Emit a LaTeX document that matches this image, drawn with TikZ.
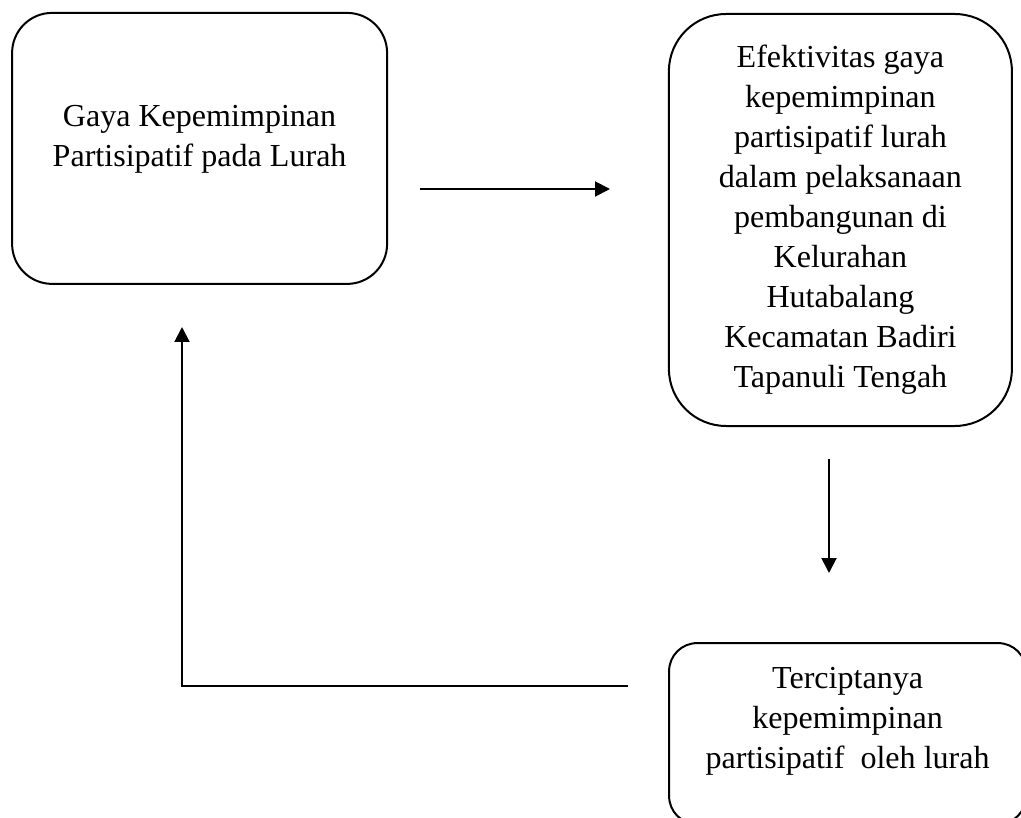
\documentclass[tikz,border=0pt]{standalone}
\usepackage{fontspec}
\setmainfont{Liberation Serif}
\usetikzlibrary{positioning,arrows.meta}
\begin{document}
\begin{tikzpicture}[
  kotak/.style = {draw, line width=0.05cm, inner sep=0pt},
  isi/.style = {align=center, inner sep=0pt, font=\fontsize{22.8}{28.45}\selectfont},
  panah/.style = {line width=0.05cm, -{Triangle[length=0.375cm,width=0.375cm]}}
  ]
  \useasboundingbox (0,0) rectangle (25.525,-20.45);
  \node [kotak, rounded corners=1cm, minimum width=9.375cm, minimum height=6.775cm] (gaya) at (4.99,-3.71) {};
  \node [isi, below=2.33cm of gaya.north] (gayatxt) {Gaya Kepemimpinan\\Partisipatif pada Lurah};
  \node [kotak, rounded corners=1.43cm, minimum width=8.575cm, minimum height=10.3cm] (efek) at (21.01,-5.5) {};
  \node [isi, below=0.8cm of efek.north] (efektxt) {Efektivitas gaya\\kepemimpinan\\partisipatif lurah\\dalam pelaksanaan\\pembangunan di\\Kelurahan\\Hutabalang\\Kecamatan Badiri\\Tapanuli Tengah};
  \node [kotak, rounded corners=0.7cm, minimum width=8.925cm, minimum height=4.525cm] (cipta) at (21.19,-18.34) {};
  \node [isi, below=0.63cm of cipta.north] (ciptatxt) {Terciptanya\\kepemimpinan\\partisipatif~ oleh lurah};
  % panah
  \coordinate (k1) at (10.5,-4.725); \coordinate (k2) at (15.25,-4.725);
  \coordinate (t1) at (20.725,-11.475); \coordinate (t2) at (20.725,-14.325);
  \coordinate (b1) at (15.7,-17.15); \coordinate (b2) at (4.55,-17.15); \coordinate (b3) at (4.55,-8.175);
  \draw [panah] (k1) -- (k2);
  \draw [panah] (t1) -- (t2);
  \draw [panah] (b1) -- (b2) -- (b3);
\end{tikzpicture}
\end{document}
